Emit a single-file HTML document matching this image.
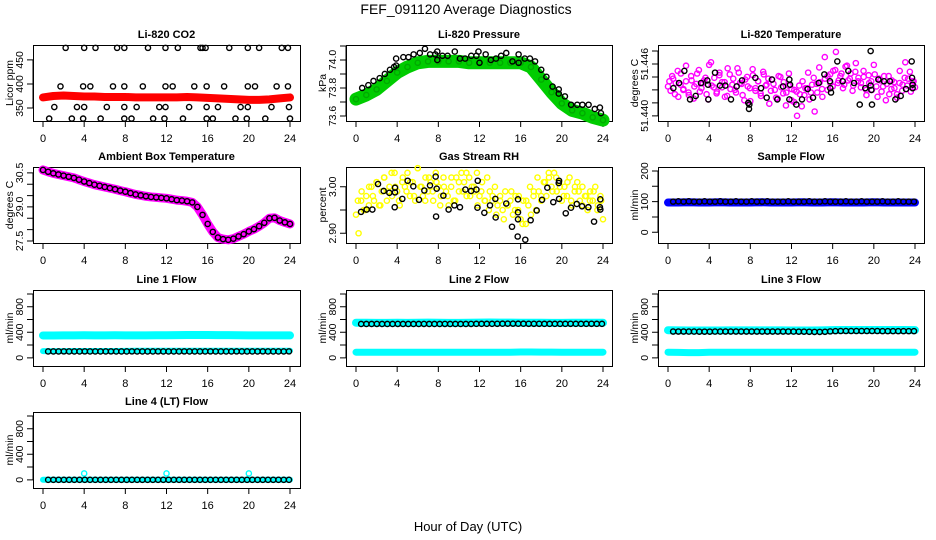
<!DOCTYPE html>
<html><head><meta charset="utf-8"><style>
html,body{margin:0;padding:0;background:#fff;}
svg{display:block;font-family:"Liberation Sans",sans-serif;}
</style></head><body>
<svg id="chart" width="936" height="540" viewBox="0 0 936 540">
<text x="466" y="14" text-anchor="middle" font-size="14">FEF_091120  Average Diagnostics</text>
<text x="468" y="531" text-anchor="middle" font-size="13">Hour of Day (UTC)</text>
</svg>
<script>
// ---------- data ----------
const xTicks=[0,4,8,12,16,20,24];
const co2Red=[372,375,376,375,374,374,373,373,373,372,372,372,372,372,373,372,371,370,369,368,367,367,368,370,372];
const co2BlackHours=[2.2,4.0,5.1,7.2,7.9,10.2,11.9,13.1,15.3,15.5,15.8,18.1,19.9,21.0,23.2,23.8,
1.7,3.9,4.6,6.8,7.9,9.7,11.9,12.6,14.7,15.9,17.6,19.9,20.6,22.7,23.8,
1.1,3.3,4.0,6.2,7.9,9.1,11.3,11.9,14.2,15.9,17.0,19.2,19.9,22.2,23.9,
0.6,2.8,3.9,5.6,7.9,8.6,10.7,11.8,13.6,15.9,16.5,18.7,19.8,21.6,24.0];
const co2BlackVals=[475,475,475,475,475,475,475,475,475,475,475,475,475,475,475,475,
395,395,395,395,395,395,395,395,395,395,395,395,395,395,395,
352,352,352,352,352,352,352,352,352,352,352,352,352,352,352,
328,328,328,328,328,328,328,328,328,328,328,328,328,328,328];
const pressGreen=[73.72,73.75,73.79,73.85,73.91,73.95,73.98,73.99,73.99,73.99,73.99,73.98,73.98,73.98,73.98,73.98,73.98,73.95,73.86,73.77,73.69,73.64,73.62,73.59,73.57];
const pressBlackHours=[0.6,1.2,1.7,2.3,2.8,3.3,3.7,3.9,3.9,4.6,5.1,5.6,6.2,6.7,7.2,7.7,7.9,7.9,8.4,8.9,9.6,10.1,10.6,11.2,11.7,11.9,12.0,12.6,13.1,13.6,14.1,14.6,15.2,15.8,15.8,16.4,16.9,17.4,18.0,18.5,19.1,19.7,19.7,20.3,20.9,21.5,22.0,22.6,23.2,23.7,23.8];
const pressBlackVals=[73.80,73.82,73.85,73.87,73.90,73.93,73.95,74.01,73.96,74.02,74.02,74.04,74.05,74.08,74.04,74.04,74.06,74.00,74.03,74.03,74.06,74.01,74.01,74.03,74.03,74.06,73.98,74.04,74.00,74.01,74.03,74.05,73.99,74.04,73.98,74.01,74.01,73.99,73.93,73.88,73.81,73.79,73.76,73.74,73.68,73.68,73.68,73.68,73.65,73.66,73.62];
const temp820A=[51.4434,51.4429,51.4443,51.4438,51.4422,51.4449,51.4431,51.4440,51.4427,51.4446,51.4420,51.4437,51.4453,51.4432,51.4441,51.4425,51.4459,51.4435,51.4444,51.4428,51.4450,51.4433,51.4439,51.4423,51.4448,51.4436,51.4430,51.4455,51.4438,51.4424,51.4442,51.4434,51.4417,51.4447,51.4432,51.4440,51.4426,51.4451,51.4435,51.4443,51.4429,51.4437,51.4421,51.4446,51.4433,51.4439,51.4427,51.4449,51.4431,51.4416,51.4428,51.4435,51.4411,51.4424,51.4432,51.4419,51.4436,51.4405,51.4427,51.4439,51.4422,51.4443,51.4430,51.4448,51.4434,51.4453,51.4438,51.4446,51.4432,51.4457,51.4441,51.4449,51.4435,51.4461,51.4444,51.4438,51.4452,51.4430,51.4447,51.4440,51.4459,51.4434,51.4443,51.4428,51.4446,51.4437,51.4425,51.4441,51.4432,51.4421,51.4438,51.4429,51.4444,51.4435,51.4451,51.4440,51.4433];
const temp820B=[51.4440,51.4446,51.4425,51.4452,51.4436,51.4430,51.4458,51.4424,51.4441,51.4434,51.4449,51.4428,51.4438,51.4444,51.4419,51.4462,51.4433,51.4426,51.4447,51.4439,51.4422,51.4455,51.4431,51.4443,51.4427,51.4450,51.4437,51.4418,51.4445,51.4432,51.4454,51.4429,51.4440,51.4423,51.4448,51.4436,51.4414,51.4442,51.4430,51.4420,51.4445,51.4426,51.4412,51.4435,51.4418,51.4430,51.4400,51.4425,51.4440,51.4432,51.4450,51.4427,51.4444,51.4437,51.4456,51.4431,51.4468,51.4446,51.4438,51.4452,51.4474,51.4441,51.4449,51.4436,51.4458,51.4443,51.4429,51.4451,51.4440,51.4433,51.4445,51.4424,51.4438,51.4430,51.4448,51.4422,51.4441,51.4434,51.4418,51.4446,51.4431,51.4439,51.4425,51.4452,51.4436,51.4462,51.4443,51.4428,51.4440];
const temp820BlackHours=[0.52,1.07,1.59,2.14,2.69,3.21,3.82,3.92,3.89,4.57,5.05,5.57,6.12,6.67,7.19,7.8,7.87,7.9,8.49,9.04,9.59,10.1,10.62,11.18,11.79,11.79,11.86,12.47,13.02,13.57,14.09,14.64,15.19,15.74,15.77,15.84,16.45,16.97,17.52,18.08,18.63,19.17,19.76,19.69,19.82,20.44,20.99,21.57,22.09,22.61,23.13,23.71,23.77,23.77,23.68,19.69];
const temp820BlackVals=[51.4432,51.4438,51.4452,51.4419,51.4423,51.4438,51.4441,51.4419,51.4436,51.4450,51.4435,51.4435,51.4419,51.4434,51.4441,51.4415,51.4408,51.4413,51.4444,51.4432,51.4421,51.4442,51.4419,51.4434,51.4442,51.4419,51.4436,51.4413,51.4419,51.4431,51.4421,51.4438,51.4448,51.4440,51.4432,51.4427,51.4463,51.4440,51.4452,51.4438,51.4413,51.4432,51.4430,51.4435,51.4413,51.4442,51.4440,51.4440,51.4419,51.4423,51.4431,51.4444,51.4436,51.4432,51.4463,51.4475];
const ambient=[30.63,30.55,30.48,30.43,30.38,30.33,30.28,30.2,30.12,30.05,29.98,29.93,29.88,29.83,29.78,29.72,29.67,29.61,29.55,29.51,29.47,29.44,29.42,29.4,29.38,29.34,29.3,29.28,29.25,29.2,29.0,28.65,28.25,27.9,27.65,27.58,27.55,27.6,27.7,27.8,27.92,28.02,28.15,28.3,28.5,28.52,28.4,28.32,28.25];
const rhYellow=[2.94,2.90,2.97,2.95,2.98,2.96,3.00,2.97,3.01,2.96,2.99,3.02,2.97,3.00,2.98,3.03,2.99,2.96,3.01,3.00,3.03,2.98,3.01,2.97,3.04,3.00,2.98,3.02,2.99,3.01,2.97,3.03,3.00,2.98,3.02,2.99,2.96,3.00,2.97,3.02,2.99,3.03,3.01,2.98,3.02,3.00,2.99,3.03,2.98,3.01,2.97,3.02,2.99,2.97,3.00,2.96,2.98,2.95,2.99,2.96,2.97,2.94,2.98,2.95,2.93,2.97,2.92,2.96,2.94,2.98,2.95,2.99,2.97,3.01,2.98,3.02,3.00,3.03,2.99,3.01,2.97,3.00,2.98,3.02,2.96,2.99,3.01,2.97,3.00,2.98,2.95,2.99,2.97,3.00,2.96,2.98,2.93];
const rhYellow2=[2.97,2.99,2.95,3.00,2.98,3.01,2.96,3.02,2.99,3.03,3.00,2.97,3.02,2.99,3.01,2.98,3.04,3.00,2.97,3.02,2.99,3.01,2.96,3.00,2.98,3.02,2.97,3.01,2.99,3.03,2.98,3.00,2.96,2.99,2.97,2.95,2.98,2.94,2.97,2.93,2.96,2.99,2.95,2.98,2.92,2.97,3.00,2.99,3.02,2.98,3.01,3.03,2.99,3.02,3.00,2.98,3.01,2.97,3.00,2.99,2.96,2.98,2.97,2.99,2.95,2.97];
const rhBlackHours=[0.49,1.04,1.59,2.14,2.69,3.24,3.79,3.79,3.76,4.5,5.02,5.57,6.12,6.64,7.19,7.74,7.78,7.84,8.49,9.0,9.56,10.1,10.63,11.18,11.7,11.8,11.83,12.47,13.02,13.57,13.54,14.6,15.16,15.74,15.74,15.74,15.71,16.45,16.97,17.56,18.08,18.59,19.17,19.73,19.73,19.7,20.38,20.89,21.45,21.96,22.58,23.13,23.74,23.74,23.7];
const rhBlackVals=[2.946,2.951,2.951,3.006,2.991,2.987,2.998,2.988,2.956,2.974,3.013,3.001,2.972,2.992,3.003,3.022,2.936,2.996,2.981,2.951,2.960,2.956,2.994,2.991,2.994,2.955,3.013,2.944,2.960,2.934,2.974,2.964,2.914,2.973,2.945,2.930,2.893,2.886,2.928,2.949,2.972,2.998,2.967,2.974,3.013,3.008,2.943,2.955,2.963,2.958,2.956,2.925,2.973,2.951,2.956];
const sampleBlue=[97,97,98,97,97,98,97,97,97,98,97,97,97,98,97,97,98,97,97,97,98,97,97,97,97];
const sampleBlack=[100,101,100,101,100,100,101,100,100,101,100,100,101,100,100,101,100,100,101,100,100,100,101,100,100,100,101,100,100,101,100,100,100,101,100,100,101,100,100,100,101,100,100,101,100,100,100];
const line1Cyan=[350,350,352,352,353,352,352,353,352,352,352,353,354,356,358,358,357,356,355,354,352,351,351,351,351];
const line1CyanLow=[105,105,105,106,106,106,106,107,108,110,110,110,110,110,110,110,110,110,110,110,110,110,110,110,110];
const line1Black=[100,100,100,101,100,100,100,101,100,100,100,100,101,100,100,100,101,100,100,100,100,101,100,100,100,100,101,100,100,100,100,101,100,100,100,100,101,100,100,100,100,101,100,100,100,100,101];
const line2Cyan=[550,550,548,548,549,548,550,551,550,548,548,550,552,553,552,552,550,549,549,548,548,550,549,549,549];
const line2CyanLow=[88,88,88,88,88,88,88,88,88,88,88,88,88,88,88,88,92,92,90,90,88,88,88,88,88];
const line2Black=[530,530,530,531,530,530,530,531,530,530,530,530,531,530,530,530,531,530,530,530,530,531,532,532,532,532,533,534,535,535,534,534,533,533,533,532,532,532,532,532,533,532,532,532,533,532,532];
const line3Cyan=[432,430,428,428,428,428,429,430,430,430,430,429,428,428,427,430,434,436,436,436,436,436,435,435,434];
const line3CyanLow=[88,85,82,82,88,88,88,88,88,88,88,88,88,88,88,88,88,88,88,88,88,88,88,88,88];
const line3Black=[412,412,412,411,411,410,410,410,411,411,412,412,412,412,412,412,412,412,412,412,412,412,412,411,410,410,408,406,406,408,414,418,420,420,420,420,420,420,420,420,418,418,418,418,418,418,418];
const line4Cyan=[2,2,2,2,2,2,2,2,2,2,2,2,2,2,2,2,2,2,2,2,2,2,2,2,2];
const line4CyanOutHours=[4,12,20];
const line4CyanOutVals=[100,100,100];
const line4Black=[0,0,0,0,0,0,0,0,0,0,0,0,0,0,0,0,0,0,0,0,0,0,0,0,0,0,0,0,0,0,0,0,0,0,0,0,0,0,0,0,0,0,0,0,0,0,0];
const flowTicks=[0,200,400,600,800,1000];
const flowLabels=["0","","400","","800",""];

// ---------- drawing ----------
const NS="http://www.w3.org/2000/svg";
const svg=document.getElementById('chart');
const cols=[{l:33,r:300,x0:43,x24:290},{l:346,r:612,x0:356,x24:603},{l:658,r:924,x0:668,x24:915}];
const rowTop=[45,167,290,412];
const H=76;
function mk(tag,parent){const e=document.createElementNS(NS,tag);(parent||svg).appendChild(e);return e;}
function panel(c,r,title,ylab,ymin,ymax,yt,yl,name){
  const C=cols[c],top=rowTop[r],bot=top+H;
  const g=mk('g');
  
  
  const sx=h=>C.x0+(h/24)*(C.x24-C.x0);
  const sy=v=>bot-(v-ymin)/(ymax-ymin)*H;
  const t=mk('text',g);
  
  
  t.setAttribute('x',(C.l+C.r)/2);t.setAttribute('y',top-7);t.setAttribute('text-anchor','middle');
  t.setAttribute('font-size','11');t.setAttribute('font-weight','bold');t.textContent=title;
  const yl2=mk('text',g);
  
  
  yl2.setAttribute('transform','translate('+(C.l-20)+','+(top+H/2)+') rotate(-90)');
  yl2.setAttribute('text-anchor','middle');yl2.setAttribute('font-size','10.5');yl2.textContent=ylab;
  const xa=mk('g',g);
  
  
  let d='M'+sx(0)+','+(bot+6)+'V'+(bot+0.5)+'H'+sx(24)+'V'+(bot+6);
  xTicks.forEach(h=>{d+='M'+sx(h)+','+bot+'v6';
    const tx=mk('text',xa);
    
    
    tx.setAttribute('x',sx(h));tx.setAttribute('y',bot+21);tx.setAttribute('text-anchor','middle');tx.setAttribute('font-size','11');tx.textContent=h;});
  const xp=mk('path',xa);xp.setAttribute('d',d);xp.setAttribute('stroke','#000');xp.setAttribute('fill','none');
  const ya=mk('g',g);
  
  
  let dy='M'+(C.l-6)+','+sy(yt[0])+'H'+C.l+'V'+sy(yt[yt.length-1])+'H'+(C.l-6);
  yt.forEach((v,i)=>{dy+='M'+(C.l-6)+','+sy(v)+'H'+C.l;
    if(yl[i]){const ty=mk('text',ya);
      
      
      ty.setAttribute('transform','translate('+(C.l-10)+','+sy(v)+') rotate(-90)');
      ty.setAttribute('text-anchor','middle');ty.setAttribute('font-size','10.5');ty.textContent=yl[i];}});
  const yp=mk('path',ya);yp.setAttribute('d',dy);yp.setAttribute('stroke','#000');yp.setAttribute('fill','none');
  const box=mk('rect',g);
  
  
  box.setAttribute('x',C.l+0.5);box.setAttribute('y',top+0.5);box.setAttribute('width',C.r-C.l);box.setAttribute('height',H);
  box.setAttribute('fill','none');box.setAttribute('stroke','#000');
  const marks=mk('g',g);
  
  
  return {sx,sy,g:marks};
}
function uniHours(arr){const n=arr.length;return arr.map((v,i)=>i*24/(n-1));}
function band(P,vals,color,w,name){
  const hs=uniHours(vals);
  const pl=mk('polyline',P.g);
  
  
  pl.setAttribute('points',vals.map((v,i)=>P.sx(hs[i])+','+P.sy(v)).join(' '));
  pl.setAttribute('fill','none');pl.setAttribute('stroke',color);pl.setAttribute('stroke-width',w);pl.setAttribute('stroke-linejoin','round');pl.setAttribute('stroke-linecap','round');
}
function pts(P,hours,vals,color,name,r){
  vals.forEach((v,i)=>{const c=mk('circle',P.g);
    
    
    c.setAttribute('cx',P.sx(hours[i]));c.setAttribute('cy',P.sy(v));c.setAttribute('r',r||2.6);
    c.setAttribute('fill','none');c.setAttribute('stroke',color);c.setAttribute('stroke-width','1.4');});
}
function upts(P,vals,color,name,off){const n=vals.length;pts(P,vals.map((v,i)=>(i+(off||0))*24/(n-1+(off?1:0))),vals,color,name);}
function blackHalf(P,vals,name){const n=vals.length;pts(P,vals.map((v,i)=>0.5+i*23.4/(n-1)),vals,'#000',name);}

let P=panel(0,0,'Li-820 CO2','Licor ppm',323,481,[350,400,450],['350','400','450'],'co2');
band(P,co2Red,'#ff0000',8,'co2-red-band');upts(P,co2Red,'#ff0000','co2-red-point');
pts(P,co2BlackHours,co2BlackVals,'#000','co2-black-point');
P=panel(1,0,'Li-820 Pressure','kPa',73.564,74.107,[73.6,73.7,73.8,73.9,74.0,74.1],['73.6','','73.8','','74.0',''],'pressure');
band(P,pressGreen,'#00cc00',13,'pressure-green-band');upts(P,pressGreen,'#00aa00','pressure-green-point');
pts(P,pressBlackHours,pressBlackVals,'#000','pressure-black-point');
P=panel(2,0,'Li-820 Temperature','degrees C',51.4394,51.4482,[51.44,51.4415,51.443,51.4445,51.446,51.4475],['51.440','','','','51.446',''],'li820-temp');
upts(P,temp820A,'#ff00ff','li820-temp-point');upts(P,temp820B,'#ff00ff','li820-temp-point',0.5);
pts(P,temp820BlackHours,temp820BlackVals,'#000','li820-temp-black-point');
P=panel(0,1,'Ambient Box Temperature','degrees C',27.41,30.76,[27.5,28,28.5,29,29.5,30,30.5],['27.5','','','29.0','','','30.5'],'ambient-temp');
band(P,ambient,'#ff00ff',9,'ambient-magenta-band');upts(P,ambient,'#000','ambient-black-point');
P=panel(1,1,'Gas Stream RH','percent',2.879,3.0426,[2.90,2.95,3.00],['2.90','','3.00'],'gas-rh');
upts(P,rhYellow,'#ffff00','rh-yellow-point');upts(P,rhYellow2,'#ffff00','rh-yellow-point',0.5);
pts(P,rhBlackHours,rhBlackVals,'#000','rh-black-point');
P=panel(2,1,'Sample Flow','ml/min',-35,213,[0,50,100,150,200],['0','','100','','200'],'sample-flow');
band(P,sampleBlue,'#0000ff',8,'sample-blue-band');blackHalf(P,sampleBlack,'sample-black-point');
P=panel(0,2,'Line 1 Flow','ml/min',-128,1062,flowTicks,flowLabels,'line1-flow');
band(P,line1Cyan,'#00ffff',8,'line1-cyan-band');band(P,line1CyanLow,'#00ffff',6,'line1-cyan-low-band');blackHalf(P,line1Black,'line1-black-point');
P=panel(1,2,'Line 2 Flow','ml/min',-128,1062,flowTicks,flowLabels,'line2-flow');
band(P,line2Cyan,'#00ffff',8,'line2-cyan-band');band(P,line2CyanLow,'#00ffff',7,'line2-cyan-low-band');blackHalf(P,line2Black,'line2-black-point');
P=panel(2,2,'Line 3 Flow','ml/min',-128,1062,flowTicks,flowLabels,'line3-flow');
band(P,line3Cyan,'#00ffff',8,'line3-cyan-band');band(P,line3CyanLow,'#00ffff',7,'line3-cyan-low-band');blackHalf(P,line3Black,'line3-black-point');
P=panel(0,3,'Line 4 (LT) Flow','ml/min',-128,1062,flowTicks,flowLabels,'line4-flow');
band(P,line4Cyan,'#00ffff',6,'line4-cyan-band');pts(P,line4CyanOutHours,line4CyanOutVals,'#00ffff','line4-cyan-outlier');blackHalf(P,line4Black,'line4-black-point');
</script>
</body></html>
